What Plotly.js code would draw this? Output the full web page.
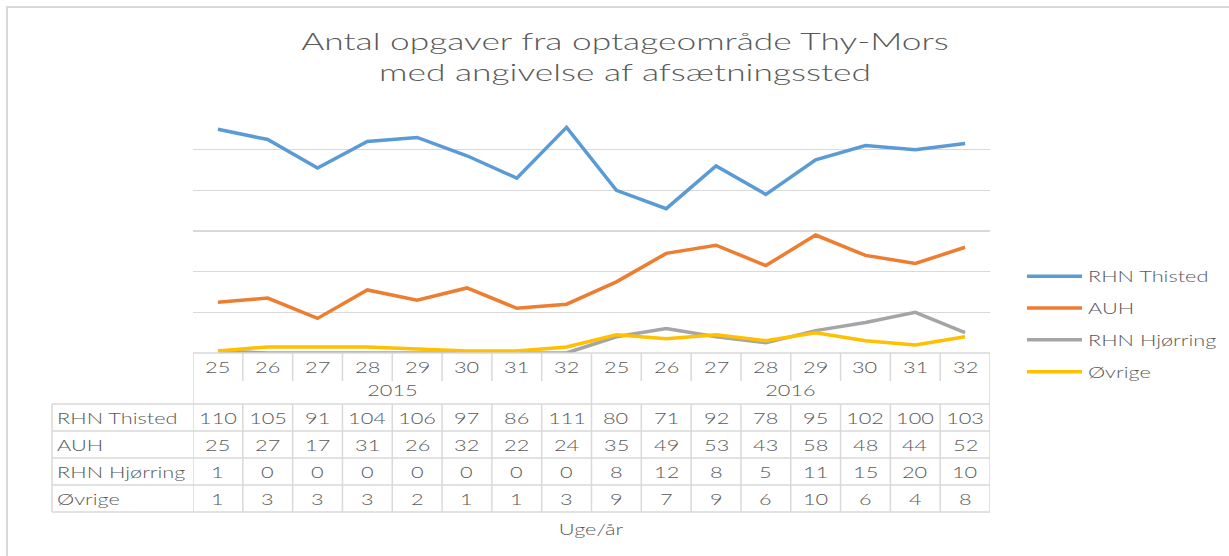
<!DOCTYPE html>
<html>
<head>
<meta charset="utf-8">
<script src="https://cdn.plot.ly/plotly-3.0.1.min.js"></script>
<style>
html,body{margin:0;padding:0;background:#fff;}
#chart{width:1229px;height:556px;}
</style>
</head>
<body>
<div id="chart"></div>
<script>
// ---- data ----
const weeks = ["25","26","27","28","29","30","31","32","25","26","27","28","29","30","31","32"];
const years = ["2015","2016"];
const yearOfWeek = ["2015","2015","2015","2015","2015","2015","2015","2015","2016","2016","2016","2016","2016","2016","2016","2016"];
const seriesNames = ["RHN Thisted","AUH","RHN Hjørring","Øvrige"];
const rhnThisted = [110,105,91,104,106,97,86,111,80,71,92,78,95,102,100,103];
const auh = [25,27,17,31,26,32,22,24,35,49,53,43,58,48,44,52];
const rhnHjorring = [1,0,0,0,0,0,0,0,8,12,8,5,11,15,20,10];
const ovrige = [1,3,3,3,2,1,1,3,9,7,9,6,10,6,4,8];
const titleText = "Antal opgaver fra optageområde Thy-Mors<br>med angivelse af afsætningssted";
const xTitle = "Uge/år";

// ---- styling ----
const colors = ["#5b9bd5","#ed7d31","#a5a5a5","#ffc000"];
const txtColor = "#595959";
const lineColor = "#d9d9d9";
const W = 1229, H = 556;
const L = 193, R = 990, T = 109, B = 353;
const STRETCH = 1.45;                    // horizontal stretch of the text in the reference
const py = p => (B - p) / (B - T);      // pixel y -> paper y
const px = p => (p - L) / (R - L);      // pixel x -> paper x

const cats = weeks.map((w,i) => w + "/" + yearOfWeek[i]);
const allSeries = [rhnThisted, auh, rhnHjorring, ovrige];

const traces = allSeries.map((vals, k) => ({
  type: "scatter", mode: "lines",
  x: cats, y: vals, name: seriesNames[k],
  legendgroup: "g" + k,
  line: {color: colors[k], width: 3.5},
  hoverinfo: "skip"
}));

const tf = {family: "Lato, Carlito, sans-serif", size: 15, color: txtColor, weight: 300};
const annotations = [];
const shapes = [];

weeks.forEach((w, i) => {
  annotations.push({xref: "x", yref: "paper", x: i, y: py(367), text: w, showarrow: false, font: tf, xanchor: "center", yanchor: "middle"});
});
years.forEach((yr) => {
  const idx = yearOfWeek.map((v,i)=>v===yr?i:-1).filter(i=>i>=0);
  const mid = (idx[0] + idx[idx.length-1]) / 2;
  annotations.push({xref: "x", yref: "paper", x: mid, y: py(390), text: yr, showarrow: false, font: tf, xanchor: "center", yanchor: "middle"});
});
const rowCenters = [417.5, 444.5, 471.5, 498.5];
allSeries.forEach((vals, k) => {
  annotations.push({xref: "paper", yref: "paper", x: px(55), y: py(rowCenters[k]), text: seriesNames[k], showarrow: false, font: tf, xanchor: "left", yanchor: "middle", name: "rowlabel"});
  vals.forEach((v, i) => {
    annotations.push({xref: "x", yref: "paper", x: i, y: py(rowCenters[k]), text: String(v), showarrow: false, font: tf, xanchor: "center", yanchor: "middle"});
  });
});
annotations.push({xref: "paper", yref: "paper", x: 0.5, y: py(529), text: xTitle, showarrow: false, font: tf, xanchor: "center", yanchor: "middle"});

const ln = {color: lineColor, width: 1.5};
const n = weeks.length;
shapes.push({type: "line", xref: "paper", yref: "paper", x0: 0, x1: 1, y0: py(353), y1: py(353), line: ln});
[404, 431, 458, 485, 512].forEach(yy => {
  shapes.push({type: "line", xref: "paper", yref: "paper", x0: px(52), x1: 1, y0: py(yy), y1: py(yy), line: ln});
});
shapes.push({type: "line", xref: "paper", yref: "paper", x0: px(52), x1: px(52), y0: py(404), y1: py(512), line: ln});
for (let i = 0; i <= n; i++) {
  const xb = i - 0.5;
  const isEdge = (i === 0 || i === n);
  const isYearBoundary = (i > 0 && i < n && yearOfWeek[i] !== yearOfWeek[i-1]);
  if (isEdge || isYearBoundary) {
    shapes.push({type: "line", xref: "x", yref: "paper", x0: xb, x1: xb, y0: py(353), y1: py(512), line: ln});
  } else {
    shapes.push({type: "line", xref: "x", yref: "paper", x0: xb, x1: xb, y0: py(353), y1: py(381), line: ln});
    shapes.push({type: "line", xref: "x", yref: "paper", x0: xb, x1: xb, y0: py(404), y1: py(512), line: ln});
  }
}
shapes.push({type: "rect", xref: "paper", yref: "paper", x0: px(7), x1: px(1235), y0: py(7), y1: py(560), line: {color: "#d9d9d9", width: 2}, layer: "below"});

const layout = {
  width: W, height: H,
  margin: {l: L, r: W - R, t: T, b: H - B, pad: 0, autoexpand: false},
  paper_bgcolor: "#fff", plot_bgcolor: "#fff",
  title: {text: titleText, x: 625 / W, xanchor: "center", y: 1 - 50 / H, yanchor: "middle", yref: "container",
          font: {family: "Lato, Carlito, sans-serif", size: 23.5, color: txtColor, weight: 300}},
  xaxis: {type: "category", range: [-0.5, n - 0.5], showgrid: false, showticklabels: false, showline: false, zeroline: false, fixedrange: true},
  yaxis: {range: [0, 120], dtick: 20, tick0: 0, showgrid: true, gridcolor: lineColor, gridwidth: 1.5, showticklabels: false, zeroline: false, showline: false, fixedrange: true},
  showlegend: true,
  legend: {x: px(1022), xanchor: "left", y: py(260), yanchor: "top", traceorder: "grouped", tracegroupgap: 9.3,
           font: {family: "Lato, Carlito, sans-serif", size: 15, color: txtColor, weight: 300}, bgcolor: "rgba(0,0,0,0)"},
  annotations: annotations,
  shapes: shapes
};

function stretch(el, s, anchor, target) {
  const b = el.getBBox();
  const ax = anchor === "start" ? b.x : b.x + b.width / 2;
  const dest = (target === undefined) ? ax : target;
  const prev = el.getAttribute("transform") || "";
  el.setAttribute("transform", prev + " translate(" + (dest - s * ax) + ",0) scale(" + s + ",1)");
}

Plotly.newPlot("chart", traces, layout, {displayModeBar: false, staticPlot: true}).then(() => {
  document.querySelectorAll(".gtitle").forEach(el => {
    const b = el.getBBox();
    stretch(el, 648 / b.width, "middle");
  });
  document.querySelectorAll(".annotation-text").forEach(el => {
    const a = el.closest(".annotation");
    const idx = a ? a.getAttribute("data-index") : null;
    const isLabel = idx !== null && annotations[+idx] && annotations[+idx].name === "rowlabel";
    stretch(el, STRETCH, isLabel ? "start" : "middle");
  });
  document.querySelectorAll(".legend [clip-path]").forEach(e => e.removeAttribute("clip-path"));
  document.querySelectorAll(".legend .traces").forEach(tr => {
    tr.querySelectorAll("path.js-line").forEach(p => p.setAttribute("d", "M5,0h55"));
    const t = tr.querySelector(".legendtext");
    if (t) stretch(t, STRETCH, "start", 66);
  });
});
</script>
</body>
</html>
